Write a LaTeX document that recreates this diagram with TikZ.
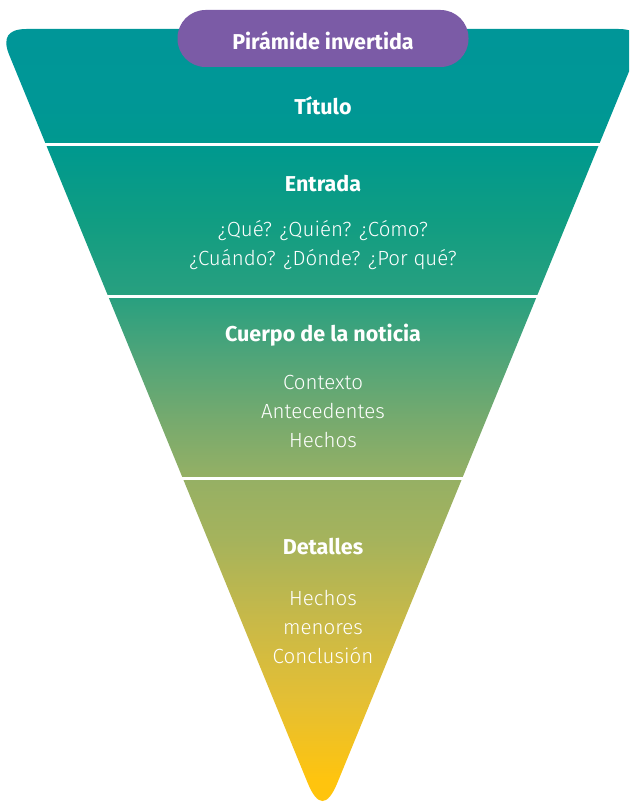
\documentclass[tikz,border=0pt]{standalone}
\usepackage{fontspec}
\setmainfont{Fira Sans}
\newfontfamily\lightfont{Fira Sans Light}
\definecolor{cA}{RGB}{255,196,12}
\definecolor{cB}{RGB}{255,196,14}
\definecolor{cC}{RGB}{228,191,52}
\definecolor{cD}{RGB}{200,185,72}
\definecolor{cE}{RGB}{165,179,92}
\definecolor{cF}{RGB}{150,176,100}
\definecolor{cG}{RGB}{118,170,110}
\definecolor{cH}{RGB}{75,164,122}
\definecolor{cI}{RGB}{42,160,127}
\definecolor{cJ}{RGB}{16,157,130}
\definecolor{cK}{RGB}{0,153,142}
\definecolor{cL}{RGB}{0,151,150}
\definecolor{cM}{RGB}{0,150,152}
\definecolor{pill}{RGB}{123,91,166}
\pgfdeclareverticalshading{pyr}{100bp}{color(0bp)=(cA); color(25bp)=(cA); color(26.7bp)=(cB); color(31.9bp)=(cC); color(37bp)=(cD); color(42.2bp)=(cE); color(46bp)=(cF); color(49.9bp)=(cG); color(54.4bp)=(cH); color(57.6bp)=(cI); color(62.7bp)=(cJ); color(67.2bp)=(cK); color(70.4bp)=(cL); color(75bp)=(cM); color(100bp)=(cM)}
\tikzset{
  head/.style={text=white, font=\fontsize{21.5}{25}\selectfont\bfseries, inner sep=0pt},
  body/.style={text=white, font=\lightfont\fontsize{20.5}{29}\selectfont, align=center, inner sep=0pt},
  sep/.style={draw=white, line width=3pt}
}
\begin{document}
\begin{tikzpicture}[x=1pt,y=-1pt]
\useasboundingbox (0,0) rectangle (629,802);
\begin{scope}
\clip (0,0) rectangle (629,802);
\shade[shading=pyr] (26.6,29) -- (618.4,29)
  .. controls (637.1,29) and (642.9,37.6) .. (635.8,54.9)
  -- (337.3,783)
  .. controls (327.4,807) and (317.6,807) .. (307.7,783)
  -- (9.2,54.9)
  .. controls (2.1,37.6) and (7.9,29) .. (26.6,29) -- cycle;
\end{scope}
\coordinate (s1l) at (0,144.5); \coordinate (s1r) at (629,144.5);
\coordinate (s2l) at (0,296); \coordinate (s2r) at (629,296);
\coordinate (s3l) at (0,478.5); \coordinate (s3r) at (629,478.5);
\draw[sep] (s1l) -- (s1r);
\draw[sep] (s2l) -- (s2r);
\draw[sep] (s3l) -- (s3r);
\node[fill=pill, rounded corners=28pt, minimum width=291pt, minimum height=57pt, inner sep=0pt] (pill) at (323,38.5) {};
\node[head] (pilltext) at (323,41) {Pirámide invertida};
\node[head] (titulo) at (323,106) {Título};
\node[head] (entrada) at (323,184) {Entrada};
\node[body] (entradatext) at (323,245) {¿Qué? ¿Quién? ¿Cómo?\\¿Cuándo? ¿Dónde? ¿Por qué?};
\node[head] (cuerpo) at (323,335) {Cuerpo de la noticia};
\node[body] (cuerpotext) at (323,411) {Contexto\\Antecedentes\\Hechos};
\node[head] (detalles) at (323,547) {Detalles};
\node[body] (detallestext) at (323,627) {Hechos\\menores\\Conclusión};
\end{tikzpicture}
\end{document}
